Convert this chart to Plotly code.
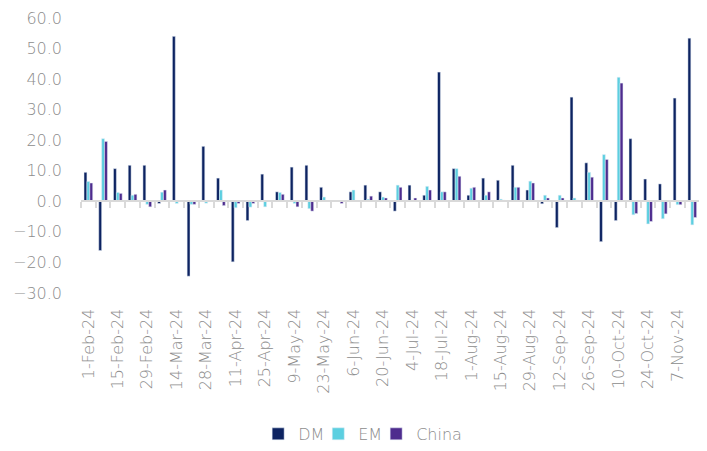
import plotly.graph_objects as go

# weekly dates (Thursdays), Feb-Nov 2024
weeks = [
    '1-Feb-24', '8-Feb-24', '15-Feb-24', '22-Feb-24', '29-Feb-24',
    '7-Mar-24', '14-Mar-24', '21-Mar-24', '28-Mar-24', '4-Apr-24',
    '11-Apr-24', '18-Apr-24', '25-Apr-24', '2-May-24', '9-May-24',
    '16-May-24', '23-May-24', '30-May-24', '6-Jun-24', '13-Jun-24',
    '20-Jun-24', '27-Jun-24', '4-Jul-24', '11-Jul-24', '18-Jul-24',
    '25-Jul-24', '1-Aug-24', '8-Aug-24', '15-Aug-24', '22-Aug-24',
    '29-Aug-24', '5-Sep-24', '12-Sep-24', '19-Sep-24', '26-Sep-24',
    '3-Oct-24', '10-Oct-24', '17-Oct-24', '24-Oct-24', '31-Oct-24',
    '7-Nov-24', '14-Nov-24', '21-Nov-24',
]

dm = [9.5, -16.1, 10.7, 11.8, 11.8, -0.7, 54.0, -24.5, 18.0, 7.6,
      -19.8, -6.3, 8.9, 3.1, 11.2, 11.8, 4.6, 0.0, 3.1, 5.3,
      3.1, -3.2, 5.3, 2.0, 42.3, 10.7, 2.0, 7.6, 6.9, 11.8,
      3.7, -0.8, -8.6, 34.1, 12.6, -13.2, -6.3, 20.5, 7.3, 5.7,
      33.8, 53.4, 11.8]
em = [6.5, 20.5, 2.9, 2.0, -1.0, 3.0, -0.7, -1.0, -0.6, 3.7,
      -2.1, -1.9, -1.8, 2.9, -0.7, -2.4, 1.4, 0.0, 3.7, 0.7,
      1.4, 5.3, 0.4, 4.9, 3.1, 10.7, 4.3, 2.0, 0.7, 4.6,
      6.6, 2.0, 2.0, 1.1, 9.5, 15.3, 40.6, -4.4, -7.4, -5.7,
      -1.1, -7.7, -1.7]
china = [6.0, 19.6, 2.6, 2.3, -1.8, 3.7, 0.1, -1.0, 0.1, -1.4,
         -0.7, -0.7, 0.1, 2.3, -1.8, -3.2, 0.1, -0.7, 0.1, 1.7,
         1.1, 4.6, 1.1, 3.7, 3.1, 8.2, 4.6, 3.1, 0.4, 4.6,
         6.0, 1.1, 1.1, 0.4, 7.9, 13.7, 38.7, -4.0, -6.6, -4.1,
         -1.1, -5.3, -1.5]

# label every second week
tick_text = [w if i % 2 == 0 else '' for i, w in enumerate(weeks)]

font = dict(family='DejaVu Sans', size=16, color='#8c8c8c', weight=300)

fig = go.Figure()
fig.add_trace(go.Bar(x=weeks, y=dm, name='DM', marker_color='#0d2361', legend='legend'))
fig.add_trace(go.Bar(x=weeks, y=em, name='EM', marker_color='#5ccfe0', legend='legend2'))
fig.add_trace(go.Bar(x=weeks, y=china, name='China', marker_color='#4e2c8e', legend='legend3'))


def legend_at(x):
    # one legend per series so each entry can be placed on its own
    return dict(orientation='h', x=x, xanchor='left', y=-0.5125, yanchor='middle',
                font=font, itemwidth=30, bgcolor='rgba(0,0,0,0)', visible=True)


# page body has an 8px margin, so the figure is 8px smaller each way
fig.update_layout(
    width=699,
    height=443,
    margin={'l': 73, 'r': 0, 't': 10, 'b': 154},
    plot_bgcolor='white',
    paper_bgcolor='white',
    barmode='group',
    bargap=0.41,
    bargroupgap=0,
    font=font,
    showlegend=True,
    legend=legend_at(0.283),
    legend2=legend_at(0.379),
    legend3=legend_at(0.4715),
)

fig.update_xaxes(
    type='category',
    range=[-0.5, 42.0],
    anchor='free',
    position=30 / 90,
    automargin=False,
    showline=True,
    linecolor='#d9d9d9',
    linewidth=2,
    ticks='outside',
    tickson='boundaries',
    ticklen=6,
    tickwidth=2,
    tickcolor='#d9d9d9',
    tickmode='array',
    tickvals=weeks,
    ticktext=tick_text,
    tickangle=-90,
    ticklabelstandoff=100,
    ticklabeloverflow='allow',
    showgrid=False,
)

fig.update_yaxes(
    range=[-30, 60],
    dtick=10,
    tickformat='.1f',
    automargin=False,
    showgrid=False,
    zeroline=False,
    showline=False,
    ticklabelstandoff=18,
    ticklabeloverflow='allow',
)

fig.write_html('out.html')
